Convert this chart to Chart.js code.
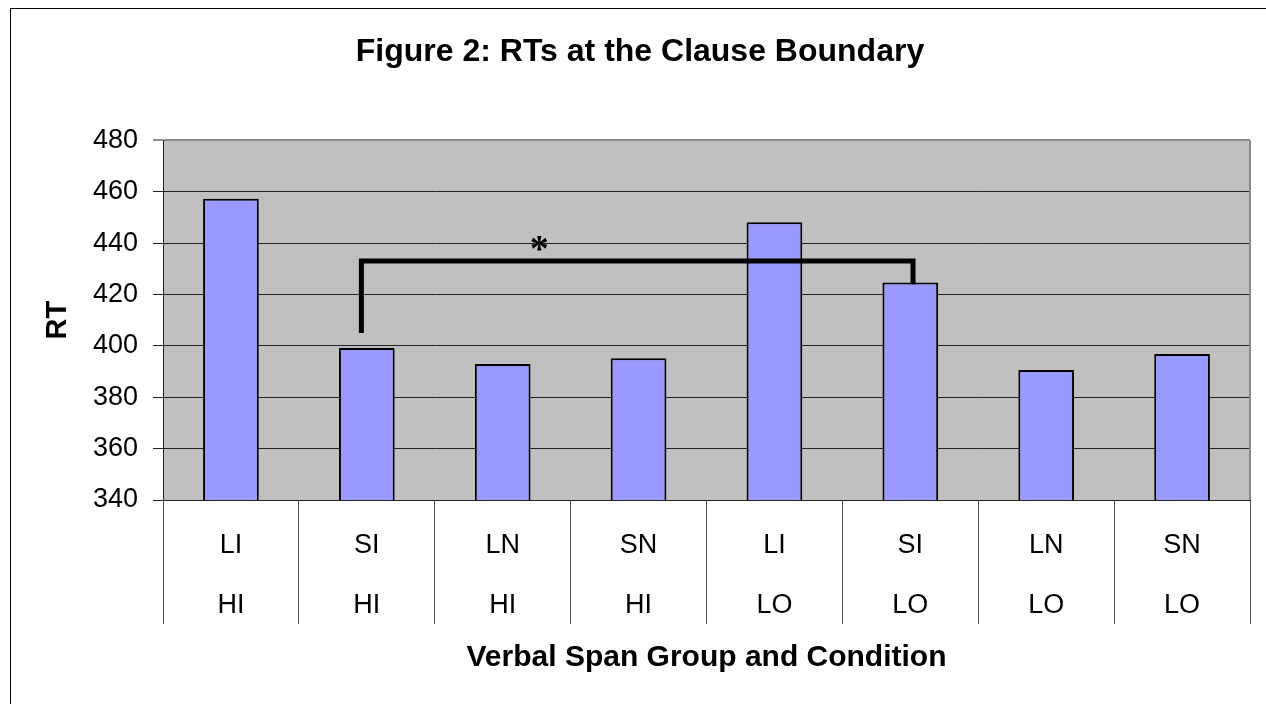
<!DOCTYPE html>
<html>
<head>
<meta charset="utf-8">
<script src="https://cdn.jsdelivr.net/npm/chart.js@4.4.1/dist/chart.umd.min.js"></script>
<style>
  html, body { margin: 0; padding: 0; background: #fff; overflow: hidden; }
  #wrap { width: 1266px; height: 704px; }
</style>
</head>
<body>
<div id="wrap"><canvas id="c" width="1266" height="704"></canvas></div>
<script>
// categories: condition on first line, span group on second
const categories = [
  ["LI", "HI"], ["SI", "HI"], ["LN", "HI"], ["SN", "HI"],
  ["LI", "LO"], ["SI", "LO"], ["LN", "LO"], ["SN", "LO"]
];
const rtValues = [457.3, 399.2, 392.9, 395.2, 448.1, 424.7, 390.6, 396.8];
const yTicks = [340, 360, 380, 400, 420, 440, 460, 480];

// significance bracket (category index / RT value)
const bracketFrom = 0.96;
const bracketTo = 5.02;
const bracketTop = 433;
const bracketFromEnd = 405;
const bracketToEnd = 424;
const starAt = [2.27, 440];

const FONT = "'Liberation Sans', Arial, sans-serif";

const plotDeco = {
  id: "plotDeco",
  beforeDraw(chart) {
    const { ctx, chartArea: a } = chart;
    ctx.save();
    // outer frame
    ctx.strokeStyle = "#000";
    ctx.lineWidth = 1;
    ctx.strokeRect(10.5, 8.5, 2000, 2000);
    // plot background
    ctx.fillStyle = "#c0c0c0";
    ctx.fillRect(a.left, a.top, a.right - a.left, a.bottom - a.top);
    ctx.restore();
  },
  afterDatasetsDraw(chart) {
    const { ctx, chartArea: a } = chart;
    const x = chart.scales.x, y = chart.scales.y;
    ctx.save();
    // right border of plot
    ctx.strokeStyle = "#888";
    ctx.lineWidth = 2;
    ctx.beginPath();
    ctx.moveTo(a.right, a.top);
    ctx.lineTo(a.right, a.bottom);
    ctx.stroke();

    // bracket
    const x1 = x.getPixelForValue(bracketFrom);
    const x2 = x.getPixelForValue(bracketTo);
    ctx.strokeStyle = "#000";
    ctx.lineWidth = 5;
    ctx.lineJoin = "miter";
    ctx.lineCap = "butt";
    ctx.beginPath();
    ctx.moveTo(x1, y.getPixelForValue(bracketFromEnd));
    ctx.lineTo(x1, y.getPixelForValue(bracketTop));
    ctx.lineTo(x2, y.getPixelForValue(bracketTop));
    ctx.lineTo(x2, y.getPixelForValue(bracketToEnd));
    ctx.stroke();

    // asterisk
    ctx.fillStyle = "#000";
    ctx.font = "bold 38px 'Liberation Serif', serif";
    ctx.textAlign = "center";
    ctx.textBaseline = "middle";
    ctx.fillText("*", x.getPixelForValue(starAt[0]), y.getPixelForValue(starAt[1]) + 8);
    ctx.restore();
  }
};

new Chart(document.getElementById("c"), {
  type: "bar",
  data: {
    labels: categories,
    datasets: [{
      label: "RT",
      data: rtValues,
      backgroundColor: "#9999ff",
      borderColor: "#000",
      borderWidth: 2,
      barPercentage: 0.41,
      categoryPercentage: 1
    }]
  },
  options: {
    responsive: false,
    devicePixelRatio: 1,
    animation: false,
    layout: { padding: { left: 15, right: 1, top: 0, bottom: 0 } },
    plugins: {
      legend: { display: false },
      tooltip: { enabled: false },
      title: {
        display: true,
        text: "Figure 2: RTs at the Clause Boundary",
        color: "#000",
        font: { family: FONT, size: 32, weight: "bold" },
        padding: { top: 33, bottom: 69 }
      }
    },
    scales: {
      x: {
        offset: true,
        grid: {
          offset: true,
          drawOnChartArea: false,
          drawTicks: true,
          tickLength: 124,
          color: "#555"
        },
        border: { color: "#222", width: 1 },
        ticks: {
          color: "#000",
          font: { family: FONT, size: 27, lineHeight: 2.22 },
          padding: -108,
          maxRotation: 0,
          autoSkip: false
        },
        title: {
          display: true,
          text: "Verbal Span Group and Condition",
          color: "#000",
          font: { family: FONT, size: 30, weight: "bold" },
          padding: { top: 0, bottom: 28 }
        },
        afterFit(s) { s.height = 204; }
      },
      y: {
        min: yTicks[0],
        max: yTicks[yTicks.length - 1],
        afterBuildTicks(s) { s.ticks = yTicks.map(v => ({ value: v })); },
        grid: {
          color: c => (c.tick && c.tick.value === 480 ? "#888" : "#222"),
          lineWidth: c => (c.tick && c.tick.value === 480 ? 2 : 1),
          tickLength: 10,
          tickColor: "#222",
          tickWidth: 1
        },
        border: { color: "#222", width: 1 },
        ticks: {
          color: "#000",
          font: { family: FONT, size: 27 },
          padding: 15
        },
        title: {
          display: true,
          text: "RT",
          color: "#000",
          font: { family: FONT, size: 29, weight: "bold" },
          padding: { top: 26, bottom: 0 }
        },
        afterFit(s) { s.width = 148; }
      },
      yRight: {
        position: "right",
        min: yTicks[0],
        max: yTicks[yTicks.length - 1],
        grid: { drawOnChartArea: false, drawTicks: false },
        border: { display: false },
        ticks: { display: false },
        afterFit(s) { s.width = 15; }
      }
    }
  },
  plugins: [plotDeco]
});
</script>
</body>
</html>
